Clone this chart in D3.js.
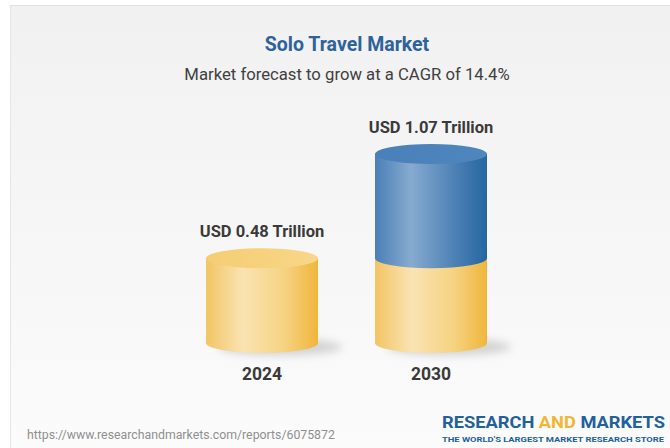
<!DOCTYPE html>
<html>
<head>
<meta charset="utf-8">
<script src="https://cdn.jsdelivr.net/npm/d3@7/dist/d3.min.js"></script>
<style>
  html, body { margin: 0; padding: 0; background: #ffffff; }
  svg { display: block; }
</style>
</head>
<body>
<svg id="chart" width="670" height="448"></svg>
<script>
// Market size (USD trillion) per year
const years = ["2024", "2030"];
const baseValues = [0.48, 0.48];      // current market size (yellow part)
const totalValues = [0.48, 1.07];     // forecast total
const valueLabels = ["USD 0.48 Trillion", "USD 1.07 Trillion"];

const titleText = "Solo Travel Market";
const subtitleText = "Market forecast to grow at a CAGR of 14.4%";
const sourceText = "https://www.researchandmarkets.com/reports/6075872";

const W = 670, H = 448;
const svg = d3.select("#chart");
const defs = svg.append("defs");

// panel background
const bg = defs.append("linearGradient").attr("id", "bg").attr("x1", 0).attr("y1", 0).attr("x2", 0).attr("y2", 1);
bg.append("stop").attr("offset", "0%").attr("stop-color", "#f1f1f1");
bg.append("stop").attr("offset", "100%").attr("stop-color", "#fbfbfb");

function sideGradient(id, stops) {
  const g = defs.append("linearGradient").attr("id", id).attr("x1", 0).attr("y1", 0).attr("x2", 1).attr("y2", 0);
  stops.forEach(([o, c]) => g.append("stop").attr("offset", o).attr("stop-color", c));
}
sideGradient("gold", [["0%", "#f2c564"], ["33%", "#fae3b3"], ["70%", "#f6d382"], ["100%", "#efb63a"]]);
sideGradient("blue", [["0%", "#4a7fb6"], ["32%", "#86abcf"], ["70%", "#4f82b6"], ["100%", "#2466a0"]]);
sideGradient("goldTop", [["0%", "#f5cd72"], ["100%", "#f8d789"]]);
sideGradient("blueTop", [["0%", "#4a80b9"], ["100%", "#4f86bd"]]);

const blur = defs.append("filter").attr("id", "shadowBlur").attr("x", "-50%").attr("y", "-200%").attr("width", "200%").attr("height", "500%");
blur.append("feGaussianBlur").attr("stdDeviation", 4);

svg.append("rect").attr("x", 0).attr("y", 0).attr("width", W).attr("height", H).attr("fill", "#ffffff");
svg.append("rect").attr("x", 10).attr("y", 5).attr("width", W - 10).attr("height", H - 5).attr("fill", "url(#bg)");
svg.append("line").attr("x1", 10).attr("y1", 5.5).attr("x2", W).attr("y2", 5.5).attr("stroke", "#e2e2e2");
svg.append("line").attr("x1", 10.5).attr("y1", 5).attr("x2", 10.5).attr("y2", H).attr("stroke", "#e6e6e6");

// scales
const x = d3.scalePoint().domain(years).range([262, 431]);
const y = d3.scaleLinear().domain([0, 1.07]).range([343, 154]);
const rx = 56, ry = 10;

// titles
svg.append("text").attr("x", 347).attr("y", 51).attr("text-anchor", "middle")
  .attr("font-family", "Roboto, sans-serif").attr("font-weight", 700).attr("font-size", 19.5)
  .attr("fill", "#2d6399").text(titleText);
svg.append("text").attr("x", 347).attr("y", 80).attr("text-anchor", "middle")
  .attr("font-family", "Roboto, sans-serif").attr("font-size", 16.7)
  .attr("fill", "#404040").text(subtitleText);

// side of a cylinder segment between two values
function bodyPath(cx, v0, v1) {
  const yb = y(v0), yt = y(v1);
  return `M${cx - rx},${yt} L${cx - rx},${yb} A${rx},${ry} 0 0 0 ${cx + rx},${yb} L${cx + rx},${yt} Z`;
}

const data = years.map((yr, i) => ({ year: yr, base: baseValues[i], total: totalValues[i], label: valueLabels[i] }));

const cyl = svg.append("g").selectAll("g").data(data).join("g");

// soft floor shadow
cyl.append("ellipse")
  .attr("cx", d => x(d.year) + 18).attr("cy", y(0) + 4)
  .attr("rx", rx + 6).attr("ry", ry - 2)
  .attr("fill", "rgba(0,0,0,0.16)").attr("filter", "url(#shadowBlur)");

// yellow base segment
cyl.append("path").attr("d", d => bodyPath(x(d.year), 0, d.base)).attr("fill", "url(#gold)");

// blue growth segment
cyl.filter(d => d.total > d.base).append("path")
  .attr("d", d => bodyPath(x(d.year), d.base, d.total)).attr("fill", "url(#blue)");

// top face
cyl.append("ellipse")
  .attr("cx", d => x(d.year)).attr("cy", d => y(d.total))
  .attr("rx", rx).attr("ry", ry)
  .attr("fill", d => d.total > d.base ? "url(#blueTop)" : "url(#goldTop)");

// value labels
cyl.append("text")
  .attr("x", d => x(d.year)).attr("y", d => y(d.total) - ry - 11)
  .attr("text-anchor", "middle")
  .attr("font-family", "Roboto, sans-serif").attr("font-weight", 700).attr("font-size", 16.5)
  .attr("fill", "#3a3a3a").text(d => d.label);

// category labels
cyl.append("text")
  .attr("x", d => x(d.year)).attr("y", 380)
  .attr("text-anchor", "middle")
  .attr("font-family", "Roboto, sans-serif").attr("font-weight", 700).attr("font-size", 17.5)
  .attr("fill", "#3a3a3a").text(d => d.year);

// footer: source link
svg.append("text").attr("x", 27).attr("y", 438.5)
  .attr("font-family", "Roboto, sans-serif").attr("font-size", 12.3)
  .attr("fill", "#8f8f8f").text(sourceText);

// footer: brand mark
const logo = svg.append("text").attr("x", 442).attr("y", 428)
  .attr("font-family", "Roboto, sans-serif").attr("font-weight", 700).attr("font-size", 17)
  .attr("textLength", 223).attr("lengthAdjust", "spacingAndGlyphs");
logo.append("tspan").attr("fill", "#22609b").text("RESEARCH ");
logo.append("tspan").attr("fill", "#f2b632").text("AND");
logo.append("tspan").attr("fill", "#22609b").text(" MARKETS");
svg.append("text").attr("x", 442).attr("y", 441.5)
  .attr("font-family", "Roboto, sans-serif").attr("font-weight", 700).attr("font-size", 8)
  .attr("textLength", 222).attr("lengthAdjust", "spacingAndGlyphs")
  .attr("fill", "#22609b").text("THE WORLD'S LARGEST MARKET RESEARCH STORE");
</script>
</body>
</html>
